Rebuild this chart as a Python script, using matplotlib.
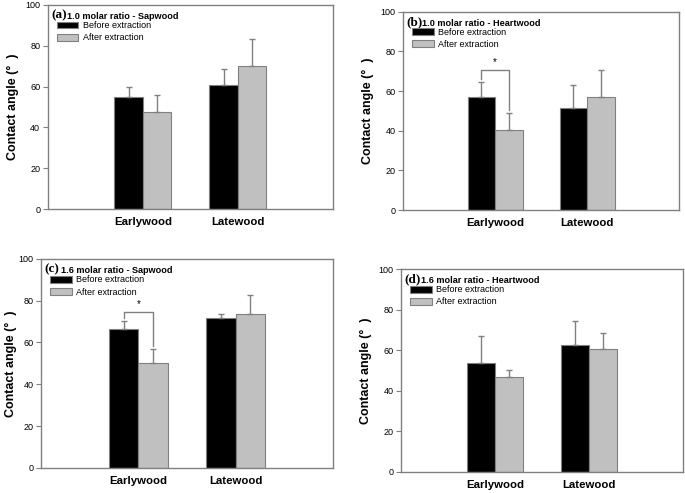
import matplotlib
matplotlib.use("Agg")
import matplotlib.pyplot as plt
import numpy as np
from matplotlib.patches import Patch

plt.rcParams['font.family'] = ['Liberation Sans', 'DejaVu Sans']

# Data
groups = ['Earlywood', 'Latewood']
panel_tags = ['(a)', '(b)', '(c)', '(d)']
panel_titles = ['1.0 molar ratio - Sapwood', '1.0 molar ratio - Heartwood',
                '1.6 molar ratio - Sapwood', '1.6 molar ratio - Heartwood']

before_a = [55.0, 61.0]
before_a_err = [5.0, 7.8]
after_a = [47.5, 70.2]
after_a_err = [8.5, 13.3]

before_b = [57.1, 51.6]
before_b_err = [7.3, 11.6]
after_b = [40.5, 57.0]
after_b_err = [8.7, 13.9]

before_c = [66.3, 71.6]
before_c_err = [4.1, 2.0]
after_c = [50.0, 73.6]
after_c_err = [6.7, 9.0]

before_d = [53.7, 62.8]
before_d_err = [13.2, 11.4]
after_d = [46.8, 60.5]
after_d_err = [3.6, 7.8]

# significance bracket (bracket height) per panel, None if no bracket
sig_height = [None, 70.9, 74.8, None]

before_all = [before_a, before_b, before_c, before_d]
before_err_all = [before_a_err, before_b_err, before_c_err, before_d_err]
after_all = [after_a, after_b, after_c, after_d]
after_err_all = [after_a_err, after_b_err, after_c_err, after_d_err]

# axes rectangles in figure fraction [left, bottom, width, height]
rects = [
    [0.070, 0.576, 0.416, 0.414],
    [0.589, 0.574, 0.402, 0.402],
    [0.060, 0.051, 0.426, 0.424],
    [0.586, 0.043, 0.411, 0.411],
]
# distance (px) from the left spine to the centre of the y label
label_dist = [35, 35, 30, 35]

fig = plt.figure(figsize=(6.85, 4.93), dpi=100)
edge = '#808080'
gray = '#c0c0c0'
width = 0.3
x = np.arange(1, len(groups) + 1)

for i in range(4):
    ax = fig.add_axes(rects[i])
    b = before_all[i]
    a = after_all[i]
    ax.bar(x - width / 2, b, width, color='black', edgecolor=edge, linewidth=0.8, zorder=2)
    ax.bar(x + width / 2, a, width, color=gray, edgecolor=edge, linewidth=0.8, zorder=2)
    # upper error bars only
    ax.errorbar(x - width / 2, b, yerr=[np.zeros(2), before_err_all[i]], fmt='none',
                ecolor=edge, elinewidth=1, capsize=2.2, capthick=1, zorder=3)
    ax.errorbar(x + width / 2, a, yerr=[np.zeros(2), after_err_all[i]], fmt='none',
                ecolor=edge, elinewidth=1, capsize=2.2, capthick=1, zorder=3)

    h = sig_height[i]
    if h is not None:
        x0 = x[0] - width / 2
        x1 = x[0] + width / 2
        y0 = b[0] + before_err_all[i][0] + 1.5
        y1 = a[0] + after_err_all[i][0] + 1.5
        ax.plot([x0, x0, x1, x1], [y0, h, h, y1], color=edge, lw=1, zorder=3)
        ax.text(x[0], h + 1.0, '*', ha='center', va='bottom', fontsize=7)

    ax.set_xlim(0, 3)
    ax.set_ylim(0, 100)
    ax.set_yticks(np.arange(0, 101, 20))
    ax.set_xticks(x)
    ax.set_xticklabels(groups, fontweight='bold', fontsize=8.2)
    ax.tick_params(axis='x', length=0, pad=6)
    ax.tick_params(axis='y', labelsize=6.5, direction='out', length=3.5, color=edge, pad=2)
    for s in ax.spines.values():
        s.set_color(edge)
        s.set_linewidth(1)
    ax.set_ylabel('Contact angle (°  )', fontweight='bold', fontsize=9, va='center')
    ax_w_px = rects[i][2] * 685
    ax.yaxis.set_label_coords(-label_dist[i] / ax_w_px, 0.5)

    # panel title: serif tag + bold sans text
    ax.text(0.012, 0.978, panel_tags[i], transform=ax.transAxes, ha='left', va='top',
            family='Liberation Serif', fontweight='bold', fontsize=9.5)
    ax.text(0.068, 0.965, panel_titles[i], transform=ax.transAxes, ha='left', va='top',
            fontweight='bold', fontsize=6.6)

    handles = [Patch(facecolor='black', edgecolor=edge, linewidth=0.8),
               Patch(facecolor=gray, edgecolor=edge, linewidth=0.8)]
    ax.legend(handles, ['Before extraction', 'After extraction'], loc='upper left',
              bbox_to_anchor=(0.028, 0.925), frameon=False, fontsize=6.5,
              handlelength=2.4, handleheight=0.8, handletextpad=0.5,
              labelspacing=0.35, borderpad=0.1, borderaxespad=0)

fig.savefig('out.png', dpi=100)
